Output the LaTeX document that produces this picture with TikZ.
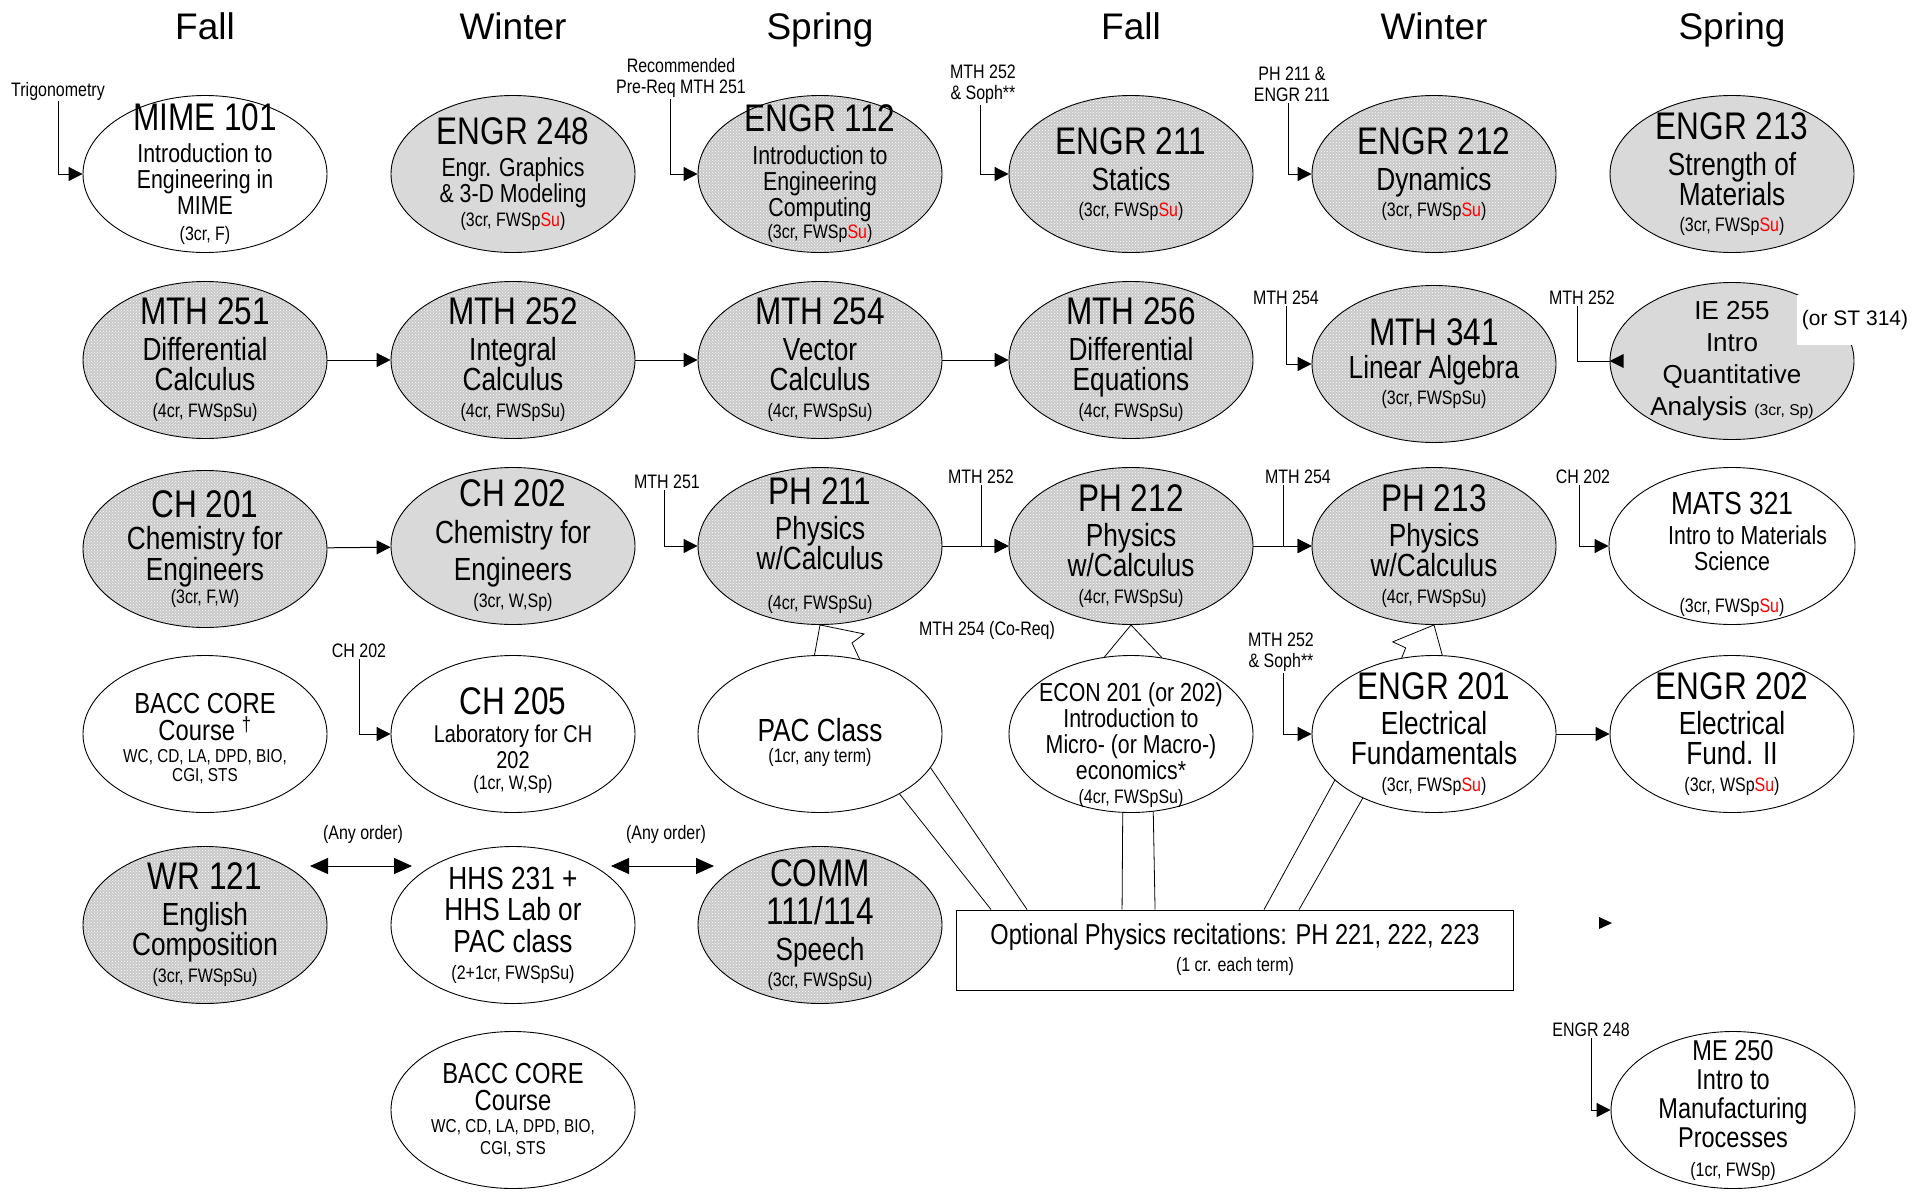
\documentclass[tikz,border=0pt]{standalone}
\usepackage{fontspec}
\setmainfont{Liberation Sans}
\newfontfamily\narrowsf[FakeStretch=0.82]{Liberation Sans}
\usetikzlibrary{arrows.meta, shapes.geometric, patterns, calc}

\newcommand{\cT}{\fontsize{38.5}{40}\selectfont}
\newcommand{\cB}{\fontsize{32}{34}\selectfont}
\newcommand{\cM}{\fontsize{26}{28}\selectfont}
\newcommand{\cS}{\fontsize{19.5}{21}\selectfont}
\newcommand{\cSu}{\textcolor{red}{Su}}

\begin{document}
\begin{tikzpicture}[x=1pt, y=-1pt,
  crs/.style={ellipse, draw, line width=0.9pt, minimum width=244pt, minimum height=157pt,
              inner xsep=-8pt, inner ysep=-30pt, align=center,
              font=\narrowsf\fontsize{19.5}{30}\selectfont},
  crsmed/.style={crs, font=\narrowsf\fontsize{19.5}{26}\selectfont},
  dots/.style={preaction={fill=black!21}, pattern=crosshatch dots, pattern color=white},
  light/.style={fill=black!15},
  season/.style={font=\fontsize{37}{40}\selectfont, anchor=base},
  pre/.style={font=\narrowsf\fontsize{19.5}{21}\selectfont, align=center, inner sep=1pt},
  arrow/.style={-{Triangle[length=14pt, width=14pt]}, line width=1pt},
  twoway/.style={{Triangle[length=18pt, width=16pt]}-{Triangle[length=18pt, width=16pt]}, line width=1pt},
  band/.style={line width=0.8pt}
]
\path[use as bounding box, fill=white] (0,0) rectangle (1929,1191);

% terms
\node[season] (fall1) at (205,39) {Fall};
\node[season] (winter1) at (513,39) {Winter};
\node[season] (spring1) at (820,39) {Spring};
\node[season] (fall2) at (1131,39) {Fall};
\node[season] (winter2) at (1434,39) {Winter};
\node[season] (spring2) at (1732,39) {Spring};

% row 1
\node[crsmed] (mime) at (205,174) {\cT MIME 101\\[6pt] \cM Introduction to\\ \cM Engineering in\\ \cM MIME\\ \cS (3cr, F)};
\node[crsmed, light] (engr248) at (513,174) {\cT ENGR 248\\[6pt] \cM Engr. Graphics\\ \cM \& 3-D Modeling\\[-2pt] \cS (3cr, FWSp\cSu)};
\node[crsmed, dots] (engr112) at (820,174) {\cT ENGR 112\\[7pt] \cM Introduction to\\ \cM Engineering\\ \cM Computing\\[-4pt] \cS (3cr, FWSp\cSu)};
\node[crs, dots] (engr211) at (1131,174) {\cT ENGR 211\\[6pt] \cB Statics\\[-4pt] \cS (3cr, FWSp\cSu)};
\node[crs, dots] (engr212) at (1434,174) {\cT ENGR 212\\[6pt] \cB Dynamics\\[-4pt] \cS (3cr, FWSp\cSu)};
\node[crs, light] (engr213) at (1732,174) {\cT ENGR 213\\[6pt] \cB Strength of\\ \cB Materials\\[-4pt] \cS (3cr, FWSp\cSu)};

% row 2
\node[crs, dots] (mth251) at (205,360) {\cT MTH 251\\[6pt] \cB Differential\\ \cB Calculus\\[-3pt] \cS (4cr, FWSpSu)};
\node[crs, dots] (mth252) at (513,360) {\cT MTH 252\\[6pt] \cB Integral\\ \cB Calculus\\[-3pt] \cS (4cr, FWSpSu)};
\node[crs, dots] (mth254) at (820,360) {\cT MTH 254\\[6pt] \cB Vector\\ \cB Calculus\\[-3pt] \cS (4cr, FWSpSu)};
\node[crs, dots] (mth256) at (1131,360) {\cT MTH 256\\[6pt] \cB Differential\\ \cB Equations\\[-3pt] \cS (4cr, FWSpSu)};
\node[crs, dots] (mth341) at (1434,364) {\cT MTH 341\\[3pt] \cB Linear Algebra\\[-4pt] \cS (3cr, FWSpSu)};
\node[crs, light, font=\fontsize{26}{32}\selectfont] (ie255) at (1732,361) {IE 255\\ Intro\\ Quantitative\\ Analysis {\fontsize{15.7}{17}\selectfont (3cr, Sp)}};
\node[fill=white, inner sep=0pt, minimum width=116pt, minimum height=50pt, font=\fontsize{21}{23}\selectfont] (orst) at (1855,320) {(or ST 314)};

% row 3
\node[crs, dots] (ch201) at (205,549) {\cT CH 201\\[2pt] \cB Chemistry for\\[1pt] \cB Engineers\\[-7pt] \cS (3cr, F,W)};
\node[crs, light] (ch202) at (513,546) {\cT CH 202\\[7pt] \cB Chemistry for\\[7pt] \cB Engineers\\[-3pt] \cS (3cr, W,Sp)};
\node[crs, dots] (ph211) at (820,546) {\cT PH 211\\[5pt] \cB Physics\\ \cB w/Calculus\\[10pt] \cS (4cr, FWSpSu)};
\node[crs, dots] (ph212) at (1131,546) {\cT PH 212\\[5pt] \cB Physics\\ \cB w/Calculus\\[-3pt] \cS (4cr, FWSpSu)};
\node[crs, dots] (ph213) at (1434,546) {\cT PH 213\\[5pt] \cB Physics\\ \cB w/Calculus\\[-3pt] \cS (4cr, FWSpSu)};
\node[crs] (mats321) at (1732,546) {\\[10pt] \cB MATS 321\\ \cM \hspace*{1.2em}Intro to Materials\\[-4pt] \cM Science\hspace*{0.4em}\\[12pt] \cS (3cr, FWSp\cSu)};

% row 4
\node[crs, font=\narrowsf\fontsize{19.5}{22}\selectfont] (bacc1) at (205,734) {\\[8pt] \fontsize{29}{30}\selectfont BACC CORE\\[2pt] \fontsize{29}{30}\selectfont Course \textsuperscript{\textdagger}\\ \fontsize{18.7}{20}\selectfont WC, CD, LA, DPD, BIO,\\[-3pt] \fontsize{18.7}{20}\selectfont CGI, STS};
\node[crsmed] (ch205) at (513,734) {\\[12pt] \cT CH 205\\[2pt] \fontsize{24.3}{26}\selectfont Laboratory for CH\\ \fontsize{24.3}{26}\selectfont 202\\[-5pt] \cS (1cr, W,Sp)};
\node[crs] (pac) at (820,734) {\\[10pt] \cB PAC Class\\[-9pt] \cS (1cr, any term)};
\node[crsmed] (econ) at (1131,734) {\\[15pt] \cM ECON 201 (or 202)\\ \cM Introduction to\\ \cM Micro- (or Macro-)\\ \cM economics*\\[-2pt] \cS (4cr, FWSpSu)};
\node[crs] (engr201) at (1434,734) {\cT ENGR 201\\[5pt] \cB Electrical\\ \cB Fundamentals\\[-3pt] \cS (3cr, FWSp\cSu)};
\node[crs] (engr202) at (1732,734) {\cT ENGR 202\\[5pt] \cB Electrical\\ \cB Fund. II\\[-3pt] \cS (3cr, WSp\cSu)};

% row 5
\node[crs, dots] (wr121) at (205,925) {\cT WR 121\\[6pt] \cB English\\ \cB Composition\\[-3pt] \cS (3cr, FWSpSu)};
\node[crs] (hhs) at (513,925) {\cB HHS 231 +\\[1pt] \cB HHS Lab or\\[2pt] \cB PAC class\\[-3pt] \cS (2+1cr, FWSpSu)};
\node[crs, dots] (comm) at (820,925) {\cT COMM\\[8pt] \cT 111/114\\[6pt] \cB Speech\\[-4pt] \cS (3cr, FWSpSu)};

% row 6
\node[crs, font=\narrowsf\fontsize{19.5}{22}\selectfont] (bacc2) at (513,1110) {\fontsize{29}{30}\selectfont BACC CORE\\[5pt] \fontsize{29}{30}\selectfont Course\\ \fontsize{18.7}{20}\selectfont WC, CD, LA, DPD, BIO,\\ \fontsize{18.7}{20}\selectfont CGI, STS};
\node[crs, font=\narrowsf\fontsize{19.5}{29}\selectfont] (me250) at (1733,1110) {\fontsize{28.7}{30}\selectfont ME 250\\ \fontsize{28.7}{30}\selectfont Intro to\\ \fontsize{28.7}{30}\selectfont Manufacturing\\ \fontsize{28.7}{30}\selectfont Processes\\ \cS (1cr, FWSp)};

% recitations
\node[draw, line width=0.9pt, minimum width=557pt, minimum height=80pt, align=center,
      font=\narrowsf\fontsize{19.5}{27}\selectfont] (optl) at (1235,950)
  {\fontsize{28.8}{30}\selectfont Optional Physics recitations: PH 221, 222, 223\\ \cS (1 cr. each term)};

% sequences
\draw[arrow] (mth251) -- (mth252);
\draw[arrow] (mth252) -- (mth254);
\draw[arrow] (mth254) -- (mth256);
\draw[arrow] (ch201) -- (ch202);
\draw[arrow] (ph211) -- (ph212);
\draw[arrow] (ph212) -- (ph213);
\draw[arrow] (engr201) -- (engr202);

% prerequisites
\node[pre] (l-trig) at (58,91) {Trigonometry};
\draw[arrow] (l-trig.south) |- (mime.west);
\node[pre] (l-rec) at (681,78) {Recommended\\Pre-Req MTH 251};
\draw[arrow] ([xshift=-11pt]l-rec.south) |- (engr112.west);
\node[pre] (l-engr211) at (983,84) {MTH 252\\\& Soph**};
\draw[arrow] ([xshift=-3pt]l-engr211.south) |- (engr211.west);
\node[pre] (l-engr212) at (1292,84) {PH 211 \&\\ENGR 211};
\draw[arrow] ([xshift=-4pt]l-engr212.south) |- (engr212.west);
\node[pre] (l-mth341) at (1286,298) {MTH 254};
\draw[arrow] (l-mth341.south) |- (mth341.west);
\node[pre] (l-ie255) at (1582,298) {MTH 252};
\draw[line width=1pt] ([xshift=-5pt]l-ie255.south) |- (ie255.west);
\fill (ie255.west) -- ++(14,-7) -- ++(0,14) -- cycle;
\node[pre] (l-ph211) at (667,482) {MTH 251};
\draw[arrow] ([xshift=-3pt]l-ph211.south) |- (ph211.west);
\node[pre] (l-ph212) at (981,477) {MTH 252};
\draw[arrow] (l-ph212.south) |- (ph212.west);
\node[pre] (l-ph213) at (1298,477) {MTH 254};
\draw[arrow] ([xshift=-15pt]l-ph213.south) |- (ph213.west);
\node[pre] (l-mats) at (1583,477) {CH 202};
\draw[arrow] ([xshift=-4pt]l-mats.south) |- (mats321.west);
\node[pre] (l-coreq) at (987,630) {MTH 254 (Co-Req)};
\node[pre] (l-ch205) at (359,651) {CH 202};
\draw[arrow] (l-ch205.south) |- (ch205.west);
\node[pre] (l-engr201) at (1281,652) {MTH 252\\\& Soph**};
\draw[arrow] ([xshift=2pt]l-engr201.south) |- (engr201.west);
\node[pre] (l-me250) at (1591,1030) {ENGR 248};
\draw[arrow] (l-me250.south) |- (me250.west);

% any order
\node[pre] (l-any1) at (363,834) {(Any order)};
\node[pre] (l-any2) at (666,834) {(Any order)};
\coordinate (any1w) at (310,866);
\coordinate (any1e) at (412,866);
\coordinate (any2w) at (611,866);
\coordinate (any2e) at (714,866);
\draw[twoway] (any1w) -- (any1e);
\draw[twoway] (any2w) -- (any2e);

% co-requisite pointers
\draw[band] (pac.94) -- (ph211.south) -- ++(44,9) -- ++(-12,9) -- (pac.62);
\draw[band] (econ.109) -- (ph212.south) -- (econ.68);
\draw[band] (engr201.113) -- ++(4,-10) -- ++(-13,-6) -- (ph213.south) -- (engr201.84);

% links to recitations
\draw[band] (pac.-17) -- ($(optl.north west)+(71,0)$);
\draw[band] (pac.-37) -- ($(optl.north west)+(35,0)$);
\draw[band] (econ.-96) -- ($(optl.north west)+(166,0)$);
\draw[band] (econ.-74) -- ($(optl.north west)+(199,0)$);
\draw[band] (engr201.-155) -- ($(optl.north west)+(308,0)$);
\draw[band] (engr201.-138) -- ($(optl.north west)+(343,0)$);

\fill (1599,917) -- (1612,923) -- (1599,929) -- cycle;
\end{tikzpicture}
\end{document}
